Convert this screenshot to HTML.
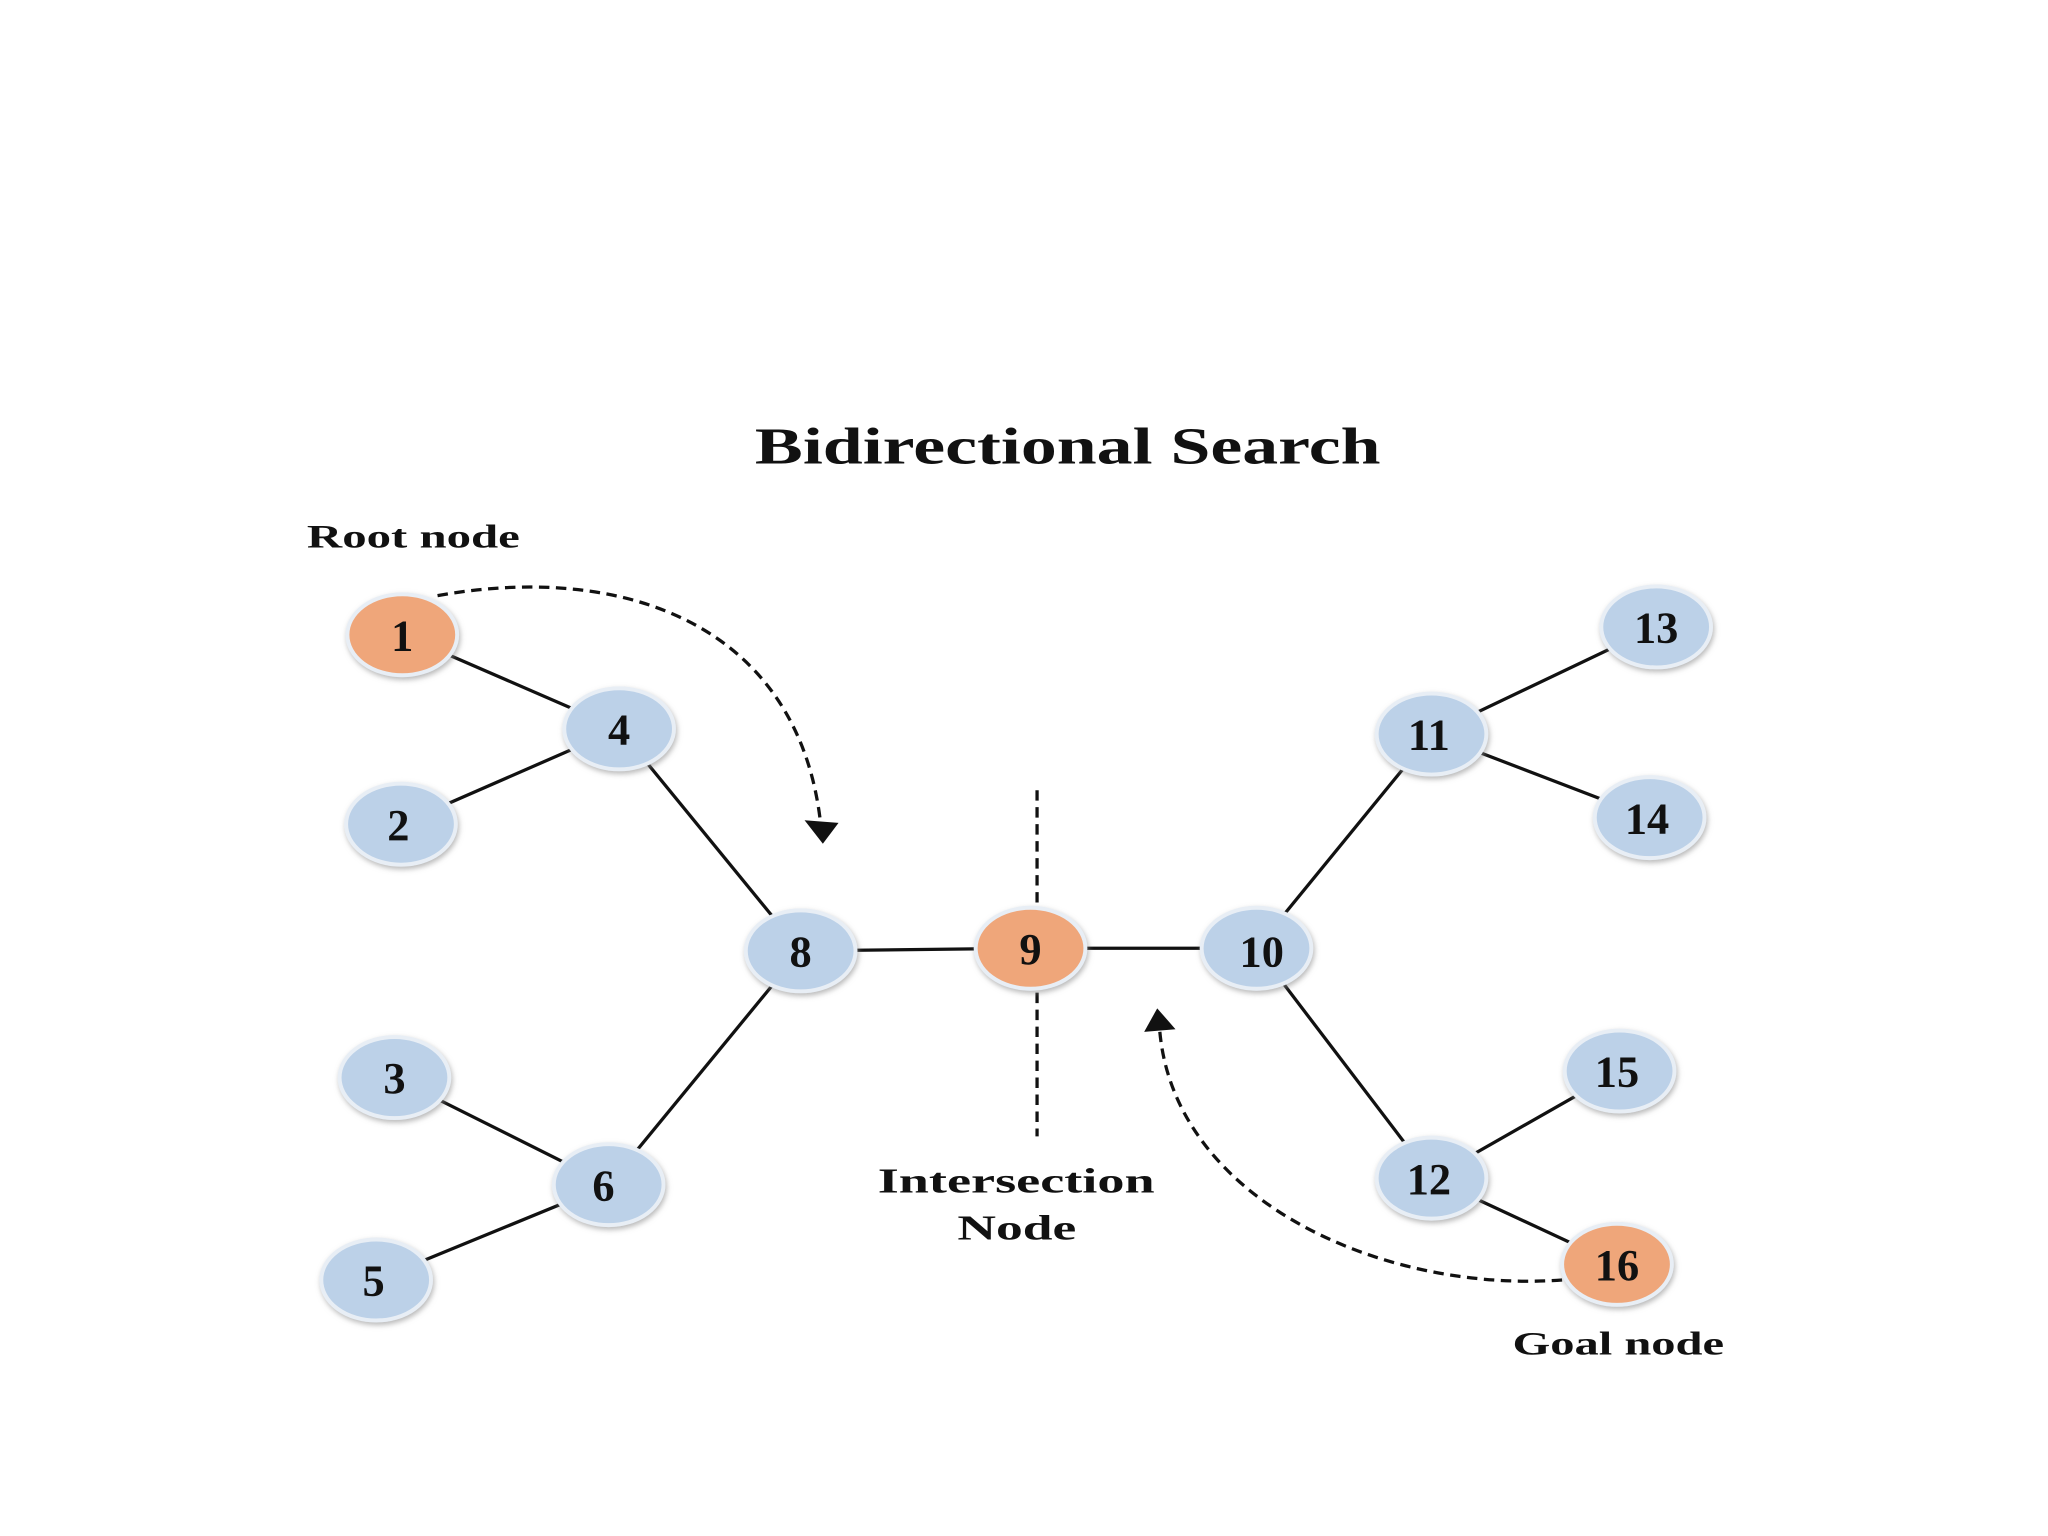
<!DOCTYPE html>
<html><head><meta charset="utf-8"><style>
html,body{margin:0;padding:0;background:#fff;}
svg{display:block}
text{font-family:"Liberation Serif",serif;font-weight:bold;fill:#111}
</style></head><body>
<svg width="2048" height="1536" viewBox="0 0 1568 1176" xmlns="http://www.w3.org/2000/svg">
<defs>
<filter id="sh" x="-30%" y="-30%" width="160%" height="160%"><feDropShadow dx="1" dy="2" stdDeviation="2" flood-color="#888" flood-opacity="0.6"/></filter>
</defs>
<text x="578" y="355" font-size="40" textLength="479" lengthAdjust="spacingAndGlyphs">Bidirectional Search</text>
<text x="235" y="419" font-size="25" textLength="163" lengthAdjust="spacingAndGlyphs">Root node</text>
<text x="672" y="913" font-size="27" textLength="212" lengthAdjust="spacingAndGlyphs">Intersection</text>
<text x="733" y="949" font-size="27" textLength="91" lengthAdjust="spacingAndGlyphs">Node</text>
<text x="1158" y="1037" font-size="25" textLength="162" lengthAdjust="spacingAndGlyphs">Goal node</text>
<g stroke="#111" stroke-width="2.5" fill="none">
<line x1="308" y1="486" x2="474" y2="558"/>
<line x1="307" y1="631" x2="474" y2="558"/>
<line x1="474" y1="558" x2="613" y2="728"/>
<line x1="613" y1="728" x2="789" y2="726"/>
<line x1="789" y1="726" x2="962" y2="726"/>
<line x1="962" y1="726" x2="1096" y2="562"/>
<line x1="1096" y1="562" x2="1268" y2="480"/>
<line x1="1096" y1="562" x2="1263" y2="626"/>
<line x1="962" y1="726" x2="1096" y2="902"/>
<line x1="1096" y1="902" x2="1240" y2="820"/>
<line x1="1096" y1="902" x2="1238" y2="968"/>
<line x1="613" y1="728" x2="466" y2="907"/>
<line x1="302" y1="825" x2="466" y2="907"/>
<line x1="288" y1="980" x2="466" y2="907"/>
</g>
<g stroke="#111" stroke-width="2.5" fill="none" stroke-dasharray="8,5">
<line x1="794" y1="605" x2="794" y2="692"/>
<line x1="794" y1="760" x2="794" y2="870"/>
<path d="M335 456 C 480 430, 610 480, 628 628"/>
<path d="M1196 980 C 1060 990, 900 920, 888 790"/>
</g>
<polygon points="616,628 642,630 630,646" fill="#111"/>
<polygon points="876,790 900,788 886,772" fill="#111"/>
<g filter="url(#sh)" stroke="#e8eef5" stroke-width="3">
<ellipse cx="308" cy="486" rx="42" ry="31" fill="#efa67a"/>
<ellipse cx="789" cy="726" rx="42" ry="31" fill="#efa67a"/>
<ellipse cx="1238" cy="968" rx="42" ry="31" fill="#efa67a"/>
<ellipse cx="474" cy="558" rx="42" ry="31" fill="#bcd1e8"/>
<ellipse cx="307" cy="631" rx="42" ry="31" fill="#bcd1e8"/>
<ellipse cx="613" cy="728" rx="42" ry="31" fill="#bcd1e8"/>
<ellipse cx="962" cy="726" rx="42" ry="31" fill="#bcd1e8"/>
<ellipse cx="1096" cy="562" rx="42" ry="31" fill="#bcd1e8"/>
<ellipse cx="1268" cy="480" rx="42" ry="31" fill="#bcd1e8"/>
<ellipse cx="1263" cy="626" rx="42" ry="31" fill="#bcd1e8"/>
<ellipse cx="302" cy="825" rx="42" ry="31" fill="#bcd1e8"/>
<ellipse cx="466" cy="907" rx="42" ry="31" fill="#bcd1e8"/>
<ellipse cx="288" cy="980" rx="42" ry="31" fill="#bcd1e8"/>
<ellipse cx="1096" cy="902" rx="42" ry="31" fill="#bcd1e8"/>
<ellipse cx="1240" cy="820" rx="42" ry="31" fill="#bcd1e8"/>
</g>
<g font-size="34" text-anchor="middle">
<text x="308" y="498">1</text>
<text x="789" y="738">9</text>
<text x="1238" y="980">16</text>
<text x="474" y="570">4</text>
<text x="305" y="643">2</text>
<text x="613" y="740">8</text>
<text x="966" y="740">10</text>
<text x="1094" y="574">11</text>
<text x="1268" y="492">13</text>
<text x="1261" y="638">14</text>
<text x="302" y="837">3</text>
<text x="462" y="919">6</text>
<text x="286" y="992">5</text>
<text x="1094" y="914">12</text>
<text x="1238" y="832">15</text>
</g>
</svg>
</body></html>
